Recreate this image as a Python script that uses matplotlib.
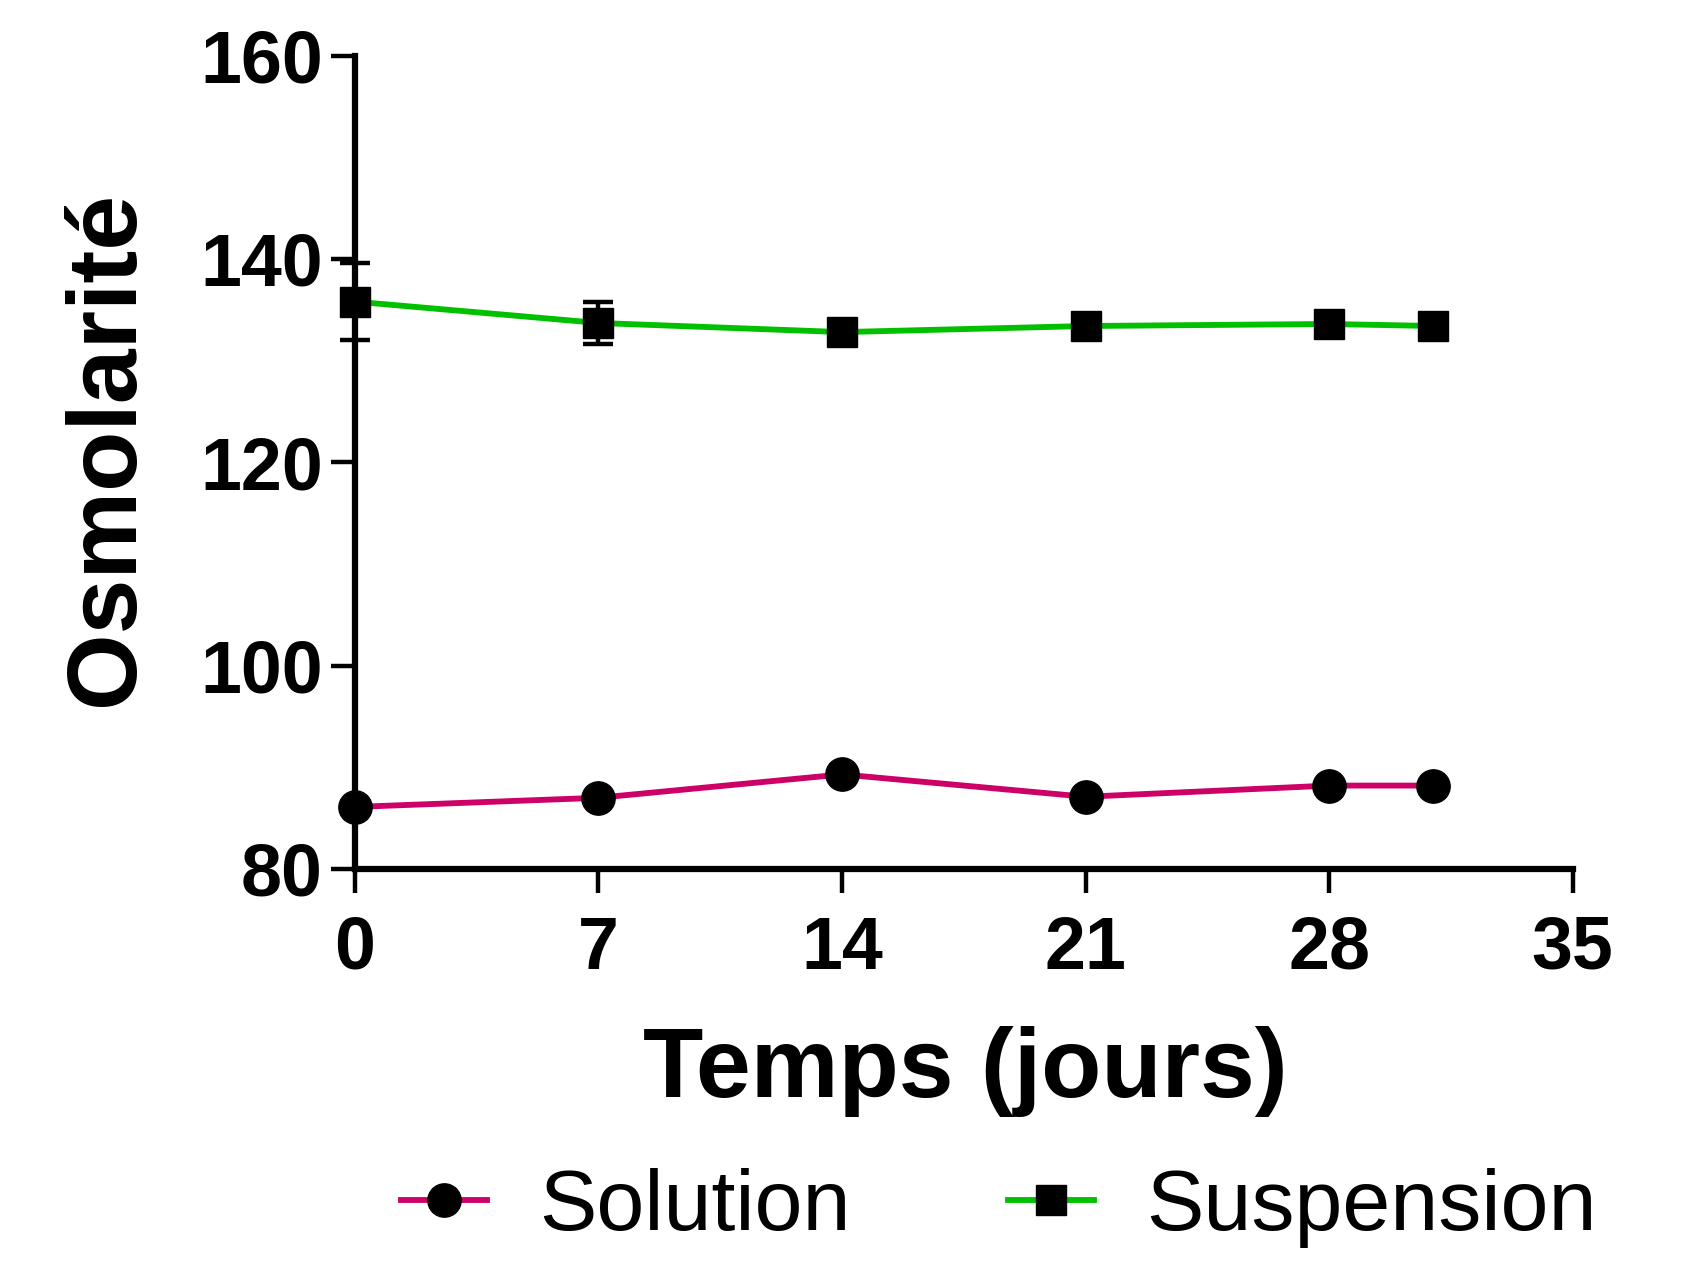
import matplotlib
matplotlib.use("Agg")
import matplotlib.pyplot as plt

plt.rcParams['font.family'] = ['Liberation Sans', 'DejaVu Sans']

# data
days = [0, 7, 14, 21, 28, 31]
solution = [86.1, 87.0, 89.3, 87.1, 88.2, 88.2]
suspension = [135.8, 133.7, 132.8, 133.4, 133.6, 133.4]
suspension_err = [3.8, 2.1, 0, 0, 0, 0]

x_ticks = [0, 7, 14, 21, 28, 35]
y_ticks = [80, 100, 120, 140, 160]

sol_color = '#CC0066'
sus_color = '#00C000'

fig = plt.figure(figsize=(16.82, 12.63), dpi=100)
ax = fig.add_axes([0.211, 0.312, 0.724, 0.644])

ax.plot(days, solution, color=sol_color, lw=4.2, marker='o', ms=24,
        mfc='black', mec='black', clip_on=False, zorder=3, label='Solution')
ax.plot(days, suspension, color=sus_color, lw=4.2, marker='s', ms=21,
        mfc='black', mec='black', clip_on=False, zorder=3, label='Suspension')

# error bars only where there is a visible spread
err_x = [d for d, e in zip(days, suspension_err) if e > 0]
err_y = [v for v, e in zip(suspension, suspension_err) if e > 0]
err_e = [e for e in suspension_err if e > 0]
ax.errorbar(err_x, err_y, yerr=err_e, fmt='none', ecolor='black',
            elinewidth=3.2, capsize=11, capthick=3.2, clip_on=False, zorder=4)

ax.set_xlim(0, 35)
ax.set_ylim(80, 160)
ax.set_xticks(x_ticks)
ax.set_yticks(y_ticks)

for side in ['top', 'right']:
    ax.spines[side].set_visible(False)
for side in ['left', 'bottom']:
    ax.spines[side].set_linewidth(4.5)

ax.tick_params(axis='both', direction='out', length=17, width=3.2,
               labelsize=53)
ax.tick_params(axis='x', pad=16)
ax.tick_params(axis='y', pad=6)
for lbl in ax.get_xticklabels() + ax.get_yticklabels():
    lbl.set_fontweight('bold')

fig.text(0.574, 0.152, 'Temps (jours)', fontsize=71, fontweight='bold',
         ha='center', va='center')
fig.text(0.064, 0.645, 'Osmolarité', fontsize=71, fontweight='bold',
         ha='center', va='center', rotation=90)

fig.legend(loc='center left', bbox_to_anchor=(0.2385, 0.0435),
           ncol=2, frameon=False, fontsize=62, handlelength=1.0,
           handletextpad=0.6, columnspacing=1.83, borderpad=0,
           borderaxespad=0)

fig.savefig('out.png', dpi=100)
